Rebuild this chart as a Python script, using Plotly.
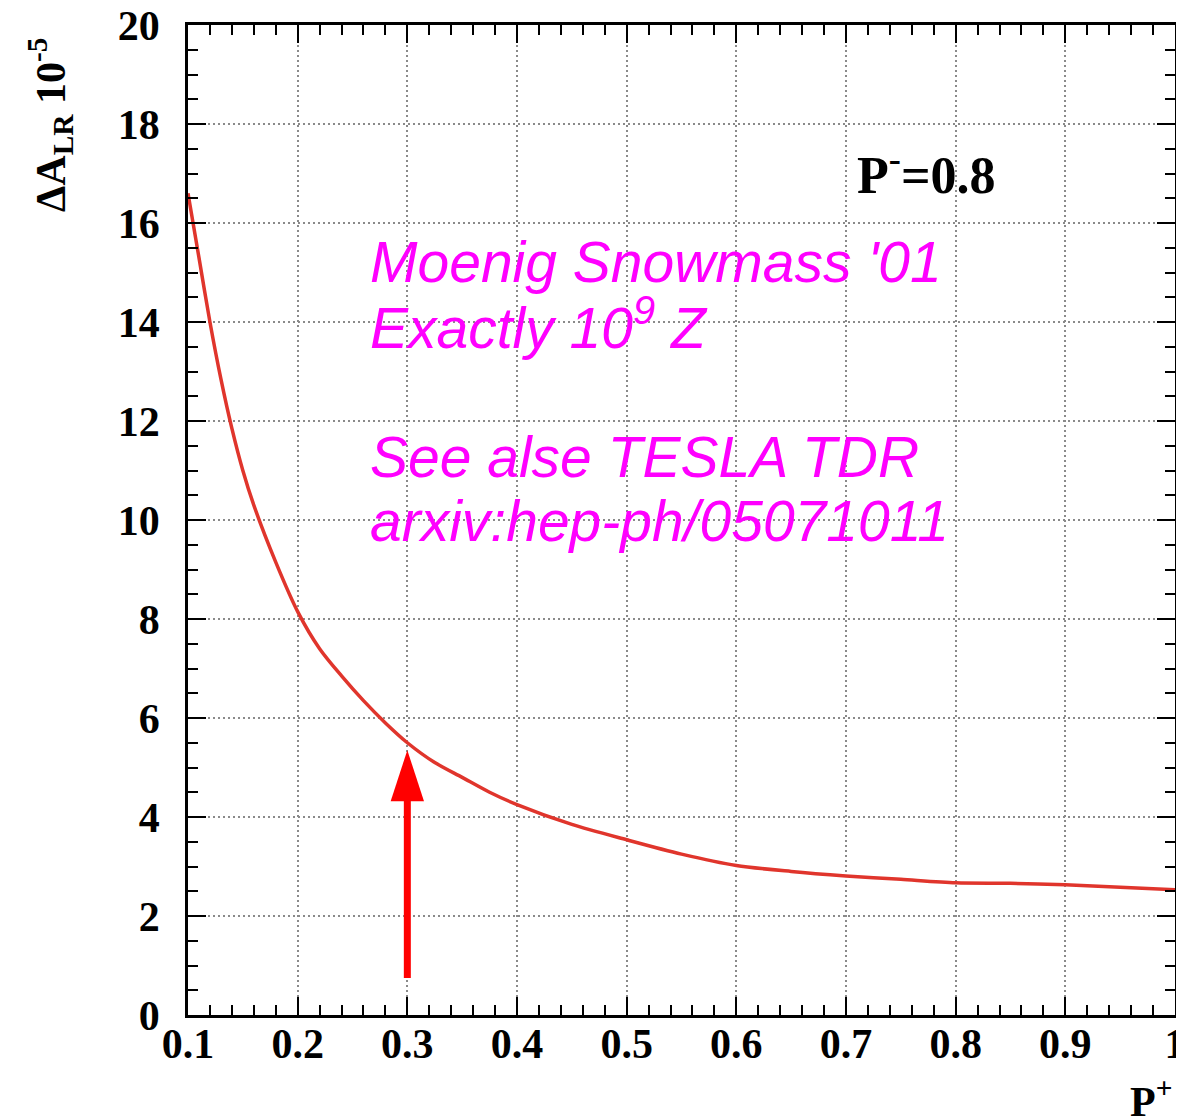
import plotly.graph_objects as go

# ---- data ----
p_plus = [0.10, 0.11, 0.12, 0.13, 0.14, 0.15, 0.16, 0.18, 0.20, 0.22, 0.24, 0.26,
          0.28, 0.30, 0.325, 0.35, 0.375, 0.40, 0.45, 0.50, 0.55, 0.60, 0.65, 0.70,
          0.75, 0.80, 0.85, 0.90, 0.95, 1.00]
delta_alr = [16.6, 15.3, 14.0, 12.85, 11.85, 11.0, 10.3, 9.15, 8.15, 7.4, 6.85, 6.35,
             5.9, 5.5, 5.1, 4.8, 4.5, 4.25, 3.85, 3.54, 3.25, 3.02, 2.90, 2.81,
             2.74, 2.67, 2.66, 2.63, 2.58, 2.53]

x_tickvals = [0.1, 0.2, 0.3, 0.4, 0.5, 0.6, 0.7, 0.8, 0.9, 1.0]
x_ticktext = ["0.1", "0.2", "0.3", "0.4", "0.5", "0.6", "0.7", "0.8", "0.9", "1"]
y_tickvals = [0, 2, 4, 6, 8, 10, 12, 14, 16, 18, 20]
y_ticktext = [str(v) for v in y_tickvals]

# arrow marking P+ = 0.3
arrow_x = 0.3
arrow_tip = 5.35
arrow_tail = 0.75
arrow_head_len = 1.03   # in y units
arrow_head_half = 0.0152  # in x units

notes = ["Moenig Snowmass '01", "Exactly 10<sup>9</sup> Z",
         "See alse TESLA TDR", "arxiv:hep-ph/05071011"]
note_ys = [262, 324, 457, 521]  # page pixel centres

# the page body adds an 8px margin; size the figure so it fills the window
OFF = 8
W, H = 1184 - OFF, 1119 - OFF
ml, mr, mt, mb = 188 - OFF, 9, 25 - OFF, 104
pw, ph = W - ml - mr, H - mt - mb


def px_x(px):
    return (px - OFF - ml) / pw


def px_y(py):
    return (H - mb - (py - OFF)) / ph


fig = go.Figure()
fig.add_trace(go.Scatter(x=p_plus, y=delta_alr, mode="lines",
                         line=dict(color="#e0352c", width=3.5, shape="spline", smoothing=0.8),
                         showlegend=False, hoverinfo="skip"))

serif = "Liberation Serif"
sans = "Liberation Sans"

axis_common = dict(showline=True, linecolor="black", linewidth=2.5, mirror="allticks",
                   ticks="inside", ticklen=18, tickwidth=2, tickcolor="black",
                   showgrid=True, gridcolor="#8a8a8a", gridwidth=1.5, griddash="2px,3px",
                   zeroline=False, automargin=False, ticklabeloverflow="allow",
                   tickfont=dict(family=serif, size=42, color="black", weight="bold"))

fig.update_xaxes(range=[0.1, 1.0], tickmode="array", tickvals=x_tickvals, ticktext=x_ticktext,
                 ticklabelstandoff=-10,
                 minor=dict(dtick=0.02, ticks="inside", ticklen=10, tickwidth=2,
                            tickcolor="black", showgrid=False),
                 **axis_common)
fig.update_yaxes(range=[0, 20], tickmode="array", tickvals=y_tickvals, ticktext=y_ticktext,
                 ticklabelstandoff=17,
                 minor=dict(dtick=0.5, ticks="inside", ticklen=10, tickwidth=2,
                            tickcolor="black", showgrid=False),
                 **axis_common)

# arrow shaft and head
fig.add_shape(type="line", x0=arrow_x, x1=arrow_x, y0=arrow_tail, y1=arrow_tip - arrow_head_len + 0.1,
              line=dict(color="#ff0000", width=7), xref="x", yref="y")
fig.add_shape(type="path",
              path=(f"M {arrow_x - arrow_head_half},{arrow_tip - arrow_head_len} "
                    f"L {arrow_x + arrow_head_half},{arrow_tip - arrow_head_len} "
                    f"L {arrow_x},{arrow_tip} Z"),
              fillcolor="#ff0000", line=dict(color="#ff0000", width=0), xref="x", yref="y")

# magenta notes
for txt, py in zip(notes, note_ys):
    fig.add_annotation(text=txt, xref="paper", yref="paper", x=px_x(368), y=px_y(py),
                       xanchor="left", yanchor="middle", showarrow=False,
                       font=dict(family=sans, size=57, color="#ff00ff", style="italic"))

# P- = 0.8 label
fig.add_annotation(text="<b>P<sup>-</sup>=0.8</b>", xref="paper", yref="paper",
                   x=px_x(855), y=px_y(172), xanchor="left", yanchor="middle", showarrow=False,
                   font=dict(family=serif, size=52, color="black"))

# y-axis title
fig.add_annotation(text="<b>ΔA<sub>LR</sub> 10<sup>-5</sup></b>", xref="paper", yref="paper",
                   x=px_x(50), y=px_y(125), xanchor="center", yanchor="middle",
                   textangle=-90, showarrow=False,
                   font=dict(family=serif, size=42, color="black"))

# x-axis title
fig.add_annotation(text="<b>P<sup>+</sup></b>", xref="paper", yref="paper",
                   x=px_x(1174), y=px_y(1098), xanchor="right", yanchor="middle",
                   showarrow=False, font=dict(family=serif, size=42, color="black"))

fig.update_layout(width=W, height=H, margin=dict(l=ml, r=mr, t=mt, b=mb, autoexpand=False),
                  plot_bgcolor="white", paper_bgcolor="white", showlegend=False)

fig.write_html("out.html")
